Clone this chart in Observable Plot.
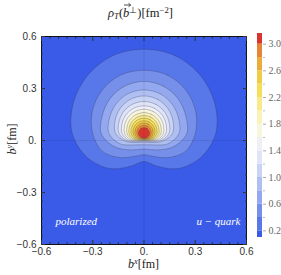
<!DOCTYPE html>
<html><head><meta charset="utf-8">
<script src="https://cdn.jsdelivr.net/npm/d3@7"></script>
<script src="https://cdn.jsdelivr.net/npm/@observablehq/plot@0.6"></script>
<style>
body{margin:0;background:#fff;}
#wrap{position:relative;width:281px;height:275px;overflow:hidden;}
#wrap > svg{position:absolute;top:0;overflow:visible;}
.lbl{position:absolute;font-family:"Liberation Serif",serif;color:#222;white-space:nowrap;line-height:1;}
.lbl i{font-style:italic;}
.lbl sup{font-size:0.7em;vertical-align:0.45em;line-height:0;}
.lbl sub{font-size:0.7em;vertical-align:-0.25em;line-height:0;}
.vec{position:relative;display:inline-block;}
.vec svg{position:absolute;left:1px;top:-4px;width:7px;height:4px;overflow:visible;}
</style></head><body>
<div id="wrap">
  <div class="lbl" id="title" style="left:0;width:281px;text-align:center;top:7px;font-size:12.5px;"><i>ρ</i><sub><i>T</i></sub>(<span class="vec"><i>b</i><svg viewBox="0 0 7 4"><path d="M0,2H6.5M4.5,0.3L6.7,2L4.5,3.7" fill="none" stroke="#222" stroke-width="0.8"/></svg></span><sup>⊥</sup>)[fm<sup>−2</sup>]</div>
  <div class="lbl" id="xlab" style="left:41px;width:205px;text-align:center;top:258px;font-size:12px;"><i>b</i><sup><i>x</i></sup>[fm]</div>
  <div class="lbl" id="ylab" style="left:-38px;width:100px;text-align:center;top:133px;font-size:12px;transform:rotate(-90deg);"><i>b</i><sup><i>y</i></sup>[fm]</div>
</div>
<script>
// contour levels (fm^-2) and colour of each band
const levels = [0.2, 0.4, 0.6, 0.8, 1.0, 1.2, 1.4, 1.6, 1.8, 2.0, 2.2, 2.4, 2.6, 2.8, 3.0];
const rangeMin = 0.1, rangeMax = 3.16;
const bandColors = ["#3a5ae8", "#5877e8", "#7690ea", "#93a8ee", "#afbff2", "#c9d3f5", "#dfe4f8", "#eff0f6",
  "#f9f6df", "#faf2b8", "#f8ea88", "#f5df5a", "#f1cb44", "#ecac3d", "#e58636", "#d8352e"];
// centre of the distribution (peak) in fm
const peakX = 0, peakY = 0.04;
// directions (deg) at which each contour's distance from the peak was read (right half, mirrored)
const angles = [90, 67.5, 45, 22.5, 0, -22.5, -45, -67.5, -90];
// distance (fm) from the peak to each contour level along those directions
const radii = [
  [0.486, 0.485, 0.470, 0.449, 0.420, 0.360, 0.285, 0.204, 0.161],
  [0.365, 0.364, 0.350, 0.328, 0.300, 0.265, 0.196, 0.142, 0.122],
  [0.301, 0.296, 0.283, 0.265, 0.250, 0.192, 0.133, 0.100, 0.089],
  [0.252, 0.248, 0.236, 0.220, 0.205, 0.153, 0.093, 0.070, 0.065],
  [0.217, 0.213, 0.201, 0.184, 0.166, 0.117, 0.070, 0.054, 0.050],
  [0.185, 0.182, 0.173, 0.160, 0.146, 0.108, 0.068, 0.051, 0.047],
  [0.160, 0.158, 0.151, 0.140, 0.128, 0.098, 0.064, 0.048, 0.044],
  [0.140, 0.138, 0.132, 0.123, 0.113, 0.089, 0.060, 0.045, 0.041],
  [0.121, 0.119, 0.115, 0.107, 0.099, 0.080, 0.056, 0.043, 0.039],
  [0.104, 0.103, 0.099, 0.093, 0.087, 0.072, 0.052, 0.041, 0.037],
  [0.089, 0.088, 0.085, 0.080, 0.075, 0.064, 0.048, 0.039, 0.035],
  [0.074, 0.073, 0.071, 0.068, 0.064, 0.056, 0.044, 0.036, 0.033],
  [0.060, 0.060, 0.058, 0.056, 0.053, 0.048, 0.040, 0.034, 0.031],
  [0.047, 0.047, 0.046, 0.044, 0.042, 0.039, 0.035, 0.031, 0.029],
  [0.034, 0.034, 0.034, 0.033, 0.032, 0.031, 0.029, 0.027, 0.026]
];
const xTicks = [-0.6, -0.3, 0, 0.3, 0.6];
const xTickLabels = ["−0.6", "−0.3", "0.", "0.3", "0.6"];
const minorTicks = [-0.55, -0.5, -0.45, -0.4, -0.35, -0.25, -0.2, -0.15, -0.1, -0.05,
  0.05, 0.1, 0.15, 0.2, 0.25, 0.35, 0.4, 0.45, 0.5, 0.55];
const barTicks = [0.2, 0.6, 1.0, 1.4, 1.8, 2.2, 2.6, 3.0];
const barTickLabels = ["0.2", "0.6", "1.0", "1.4", "1.8", "2.2", "2.6", "3.0"];
const barMinor = [0.4, 0.8, 1.2, 1.6, 2.0, 2.4, 2.8];
const leftLabel = "polarized", rightLabel = "u − quark";

// build closed contour outlines from the read radii
const contourPts = [];
levels.forEach((lev, i) => {
  const r = radii[i];
  const pts = angles.map((a, j) => [a, r[j]]);
  for (let j = angles.length - 2; j >= 1; j--) pts.push([180 - angles[j], r[j]]);
  pts.forEach(([a, rr]) => {
    const t = a * Math.PI / 180;
    contourPts.push({level: lev, x: peakX + rr * Math.cos(t), y: peakY + rr * Math.sin(t)});
  });
});
const bands = bandColors.map((c, i) => ({lo: i === 0 ? rangeMin : levels[i - 1], hi: i < levels.length ? levels[i] : rangeMax}));
const color = {type: "threshold", domain: levels, range: bandColors};
const fmtX = d => xTickLabels[xTicks.indexOf(d)];
const blank = () => "";

const main = Plot.plot({
  width: 258, height: 275, marginLeft: 41, marginRight: 12, marginTop: 36, marginBottom: 31,
  x: {domain: [-0.6, 0.6]}, y: {domain: [-0.6, 0.6]},
  color,
  style: {fontFamily: "Liberation Sans, sans-serif", fontSize: "10px", color: "#333", background: "transparent"},
  marks: [
    Plot.frame({fill: bandColors[0]}),
    Plot.line(contourPts, {x: "x", y: "y", z: "level", fill: "level", stroke: "#2a2f50", strokeOpacity: 0.4, strokeWidth: 0.7, curve: "catmull-rom-closed"}),
    Plot.ruleX([0], {stroke: "#1a2560", strokeOpacity: 0.12}),
    Plot.ruleY([0], {stroke: "#1a2560", strokeOpacity: 0.12}),
    Plot.text([leftLabel], {text: d => d, frameAnchor: "bottom-left", dx: 14, dy: -20, textAnchor: "start", fill: "white", fontStyle: "italic", fontFamily: "Liberation Serif, serif", fontSize: 11}),
    Plot.text([rightLabel], {text: d => d, frameAnchor: "bottom-right", dx: -6, dy: -20, textAnchor: "end", fill: "white", fontStyle: "italic", fontFamily: "Liberation Serif, serif", fontSize: 11}),
    Plot.frame({stroke: "#111", strokeWidth: 1}),
    Plot.axisX(xTicks, {anchor: "bottom", tickSize: -4, tickPadding: 7, tickFormat: fmtX, label: null}),
    Plot.axisX(xTicks, {anchor: "top", tickSize: -4, tickFormat: blank, label: null}),
    Plot.axisY(xTicks, {anchor: "left", tickSize: -4, tickPadding: 9, tickFormat: fmtX, label: null}),
    Plot.axisY(xTicks, {anchor: "right", tickSize: -4, tickFormat: blank, label: null}),
    Plot.axisX(minorTicks, {anchor: "bottom", tickSize: -2, tickFormat: blank, label: null}),
    Plot.axisX(minorTicks, {anchor: "top", tickSize: -2, tickFormat: blank, label: null}),
    Plot.axisY(minorTicks, {anchor: "left", tickSize: -2, tickFormat: blank, label: null}),
    Plot.axisY(minorTicks, {anchor: "right", tickSize: -2, tickFormat: blank, label: null})
  ]
});
main.style.left = "0px";

const bar = Plot.plot({
  width: 31, height: 275, marginLeft: 7, marginRight: 19, marginTop: 33, marginBottom: 38,
  y: {domain: [rangeMin, rangeMax]},
  color,
  style: {fontFamily: "Liberation Serif, serif", fontSize: "10px", color: "#666", background: "transparent"},
  marks: [
    Plot.rect(bands, {y1: "lo", y2: "hi", fill: "lo"}),
    Plot.axisY(barTicks, {anchor: "right", tickSize: 3, tickPadding: 3, stroke: "#aaa", tickFormat: d => barTickLabels[barTicks.indexOf(d)], label: null}),
    Plot.axisY(barMinor, {anchor: "right", tickSize: 2, stroke: "#bbb", tickFormat: blank, label: null})
  ]
});
bar.style.left = "250px";

document.getElementById("wrap").append(main, bar);
</script>
</body></html>
